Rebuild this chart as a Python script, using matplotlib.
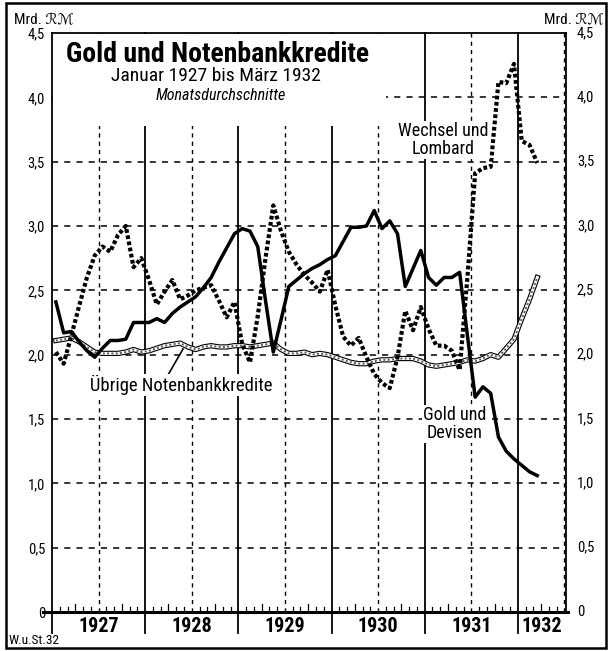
import numpy as np
import matplotlib
matplotlib.use("Agg")
import matplotlib.pyplot as plt
from matplotlib.patches import Rectangle
from matplotlib import font_manager

names = {f.name for f in font_manager.fontManager.ttflist}
narrow = [n for n in ['Liberation Sans Narrow', 'DejaVu Sans Condensed', 'Roboto Condensed'] if n in names]
plt.rcParams['font.family'] = narrow + ['DejaVu Sans']

# Monatsdurchschnitte, Januar 1927 bis März 1932 (Mrd. RM)
years = ['1927', '1928', '1929', '1930', '1931', '1932']

gold_devisen = [2.41, 2.17, 2.18, 2.10, 2.03, 1.98, 2.05, 2.11, 2.11, 2.12, 2.25, 2.25,
                2.25, 2.28, 2.25, 2.32, 2.37, 2.41, 2.45, 2.52, 2.60, 2.72, 2.83, 2.94,
                2.98, 2.96, 2.84, 2.42, 2.02, 2.27, 2.53, 2.58, 2.63, 2.67, 2.70, 2.74,
                2.77, 2.88, 2.99, 2.99, 3.00, 3.12, 2.98, 3.04, 2.94, 2.53, 2.67, 2.81,
                2.60, 2.54, 2.60, 2.60, 2.64, 2.15, 1.67, 1.75, 1.70, 1.36, 1.25, 1.19,
                1.14, 1.09, 1.06]

wechsel_lombard = [2.02, 1.93, 2.15, 2.38, 2.60, 2.77, 2.84, 2.80, 2.93, 3.00, 2.68, 2.75,
                   2.58, 2.39, 2.49, 2.58, 2.43, 2.46, 2.50, 2.52, 2.54, 2.42, 2.29, 2.41,
                   2.08, 1.94, 2.30, 2.75, 3.16, 2.96, 2.80, 2.70, 2.62, 2.56, 2.49, 2.66,
                   2.38, 2.14, 2.07, 2.13, 1.98, 1.85, 1.78, 1.74, 1.98, 2.34, 2.19, 2.37,
                   2.20, 2.07, 2.07, 2.03, 1.88, 2.60, 3.41, 3.45, 3.46, 4.12, 4.11, 4.26,
                   3.66, 3.63, 3.49]

uebrige_kredite = [2.11, 2.12, 2.13, 2.10, 2.06, 2.02, 2.01, 2.01, 2.01, 2.02, 2.04, 2.02,
                   2.03, 2.05, 2.07, 2.08, 2.09, 2.06, 2.04, 2.06, 2.07, 2.06, 2.06, 2.07,
                   2.07, 2.06, 2.07, 2.08, 2.09, 2.04, 2.01, 2.01, 2.02, 2.00, 2.01, 2.00,
                   1.98, 1.96, 1.94, 1.93, 1.93, 1.95, 1.96, 1.96, 1.97, 1.97, 1.97, 1.95,
                   1.92, 1.91, 1.92, 1.93, 1.94, 1.96, 1.95, 1.97, 2.00, 1.98, 2.05, 2.12,
                   2.28, 2.43, 2.60]

y_ticks = [0, 0.5, 1.0, 1.5, 2.0, 2.5, 3.0, 3.5, 4.0, 4.5]

W, H = 609, 651
fig = plt.figure(figsize=(W / 100, H / 100), dpi=100)
# shrink text if no condensed face is available
sc = 1.0 if narrow else 0.8


def fx(px):
    return px / W


def fy(py):
    return 1 - py / H


ax = fig.add_axes([fx(52), fy(612), (566 - 52) / W, (612 - 33) / H])
x_end = 66.2
ax.set_xlim(0, x_end)
ax.set_ylim(0, 4.5)
for s in ax.spines.values():
    s.set_visible(False)
ax.set_xticks([])
ax.set_yticks(y_ticks)
ax.set_yticklabels(['0' if v == 0 else f'{v:.1f}'.replace('.', ',') for v in y_ticks])
ax.tick_params(axis='y', length=0, pad=5, labelsize=10.5 * sc)

# frame and grid
ax.plot([0, x_end], [4.5, 4.5], color='k', lw=1.3, clip_on=False)
ax.plot([x_end, x_end], [0, 4.5], color='k', lw=1.3, clip_on=False)
for yv in y_ticks[1:-1]:
    ax.plot([0, x_end], [yv, yv], color='k', lw=1.1, ls=(0, (4, 4)))
for k in range(6):
    m = 12 * k
    ax.plot([m, m], [-0.16, 4.5], color='k', lw=1.3, clip_on=False)
    if m + 6 < x_end:
        ax.plot([m + 6, m + 6], [0, 4.5], color='k', lw=1.0, ls=(0, (3, 3)))
for m in range(1, 66):
    if m % 6 == 0:
        continue
    h = 0.065 if m % 3 == 0 else 0.04
    ax.plot([m, m], [0, h], color='k', lw=0.9)
ax.plot([-1.15, x_end + 0.2], [0, 0], color='k', lw=2.2, clip_on=False)

# blank area behind title
ax.add_patch(Rectangle((0.15, 3.78), 42.9, 0.71, facecolor='white', edgecolor='none', zorder=2))

# year labels
for k, yr in enumerate(years):
    c = 12 * k + 6 if k < 5 else (60 + x_end) / 2
    ax.text(c, -0.11, yr, ha='center', va='center', fontsize=14.5 * sc, fontweight='bold',
            clip_on=False)

# right-hand labels
for v in y_ticks:
    lab = '0' if v == 0 else f'{v:.1f}'.replace('.', ',')
    ax.text(x_end + 1.4, v, lab, ha='left', va='center', fontsize=10.5 * sc, clip_on=False)

# series
x = np.arange(len(gold_devisen)) + 0.5
ax.plot(x, uebrige_kredite, color='k', lw=3.8, zorder=3, solid_joinstyle='round')
ax.plot(x, uebrige_kredite, color='white', lw=2.2, zorder=3.1, solid_joinstyle='round')
ax.plot(x, uebrige_kredite, color='0.35', lw=1.4, ls=(0, (1, 1.2)), zorder=3.2)
ax.plot(x, wechsel_lombard, color='k', lw=3.0, ls=(0, (0.9, 0.6)),
        dash_capstyle='butt', zorder=4)
ax.plot(x, gold_devisen, color='k', lw=2.5, solid_joinstyle='round', zorder=5)

# titles
fig.text(fx(218), fy(54), 'Gold und Notenbankkredite', ha='center', va='center',
         fontsize=20 * sc, fontweight='bold')
fig.text(fx(216), fy(76), 'Januar 1927 bis März 1932', ha='center', va='center',
         fontsize=14 * sc)
fig.text(fx(221), fy(96), 'Monatsdurchschnitte', ha='center', va='center',
         fontsize=11.5 * sc, style='italic')

# series labels
box = dict(facecolor='white', edgecolor='none', pad=1.0)
fig.text(fx(443), fy(140), 'Wechsel und\nLombard', ha='center', va='center',
         fontsize=13 * sc, linespacing=1.0, bbox=box, zorder=6)
fig.text(fx(455), fy(424), 'Gold und\nDevisen', ha='center', va='center',
         fontsize=13 * sc, linespacing=1.0, bbox=box, zorder=6)
fig.text(fx(181), fy(385), 'Übrige Notenbankkredite', ha='center', va='center',
         fontsize=13.4 * sc, bbox=box, zorder=6)
fig.add_artist(plt.Line2D([fx(168), fx(183)], [fy(375), fy(349)], color='k', lw=1.2))

# unit labels
fig.text(fx(14), fy(20), 'Mrd. ℛℳ', ha='left', va='center', fontsize=11 * sc)
fig.text(fx(604), fy(20), 'Mrd. ℛℳ', ha='right', va='center', fontsize=11 * sc)
fig.text(fx(9), fy(641), 'W.u.St.32', ha='left', va='center', fontsize=9.5 * sc)

# outer border
fig.add_artist(Rectangle((fx(6), fy(648)), fx(600), 645 / H, transform=fig.transFigure,
                         fill=False, edgecolor='k', lw=1.8))

fig.savefig('out.png', dpi=100)
